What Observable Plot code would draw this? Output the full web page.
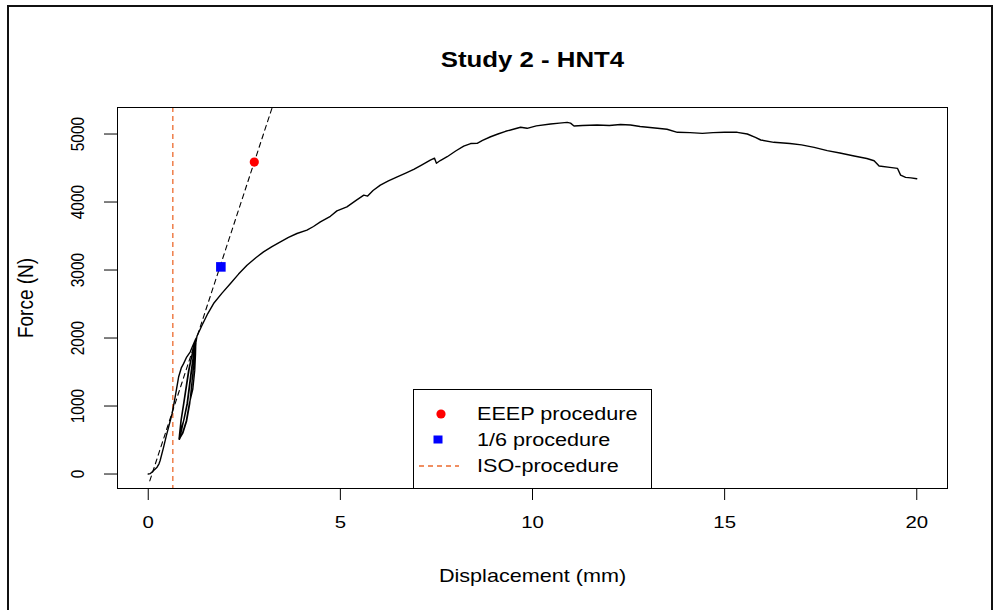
<!DOCTYPE html>
<html><head><meta charset="utf-8">
<script src="https://cdn.jsdelivr.net/npm/d3@7"></script>
<script src="https://cdn.jsdelivr.net/npm/@observablehq/plot@0.6"></script>
<style>
body{margin:0;background:#fff;font-family:"Liberation Sans",Arial,sans-serif;}
#wrap{position:relative;width:995px;height:610px;overflow:hidden;background:#fff;}
#wrap svg{position:absolute;left:0;top:0;}
#border{position:absolute;left:7px;top:5px;width:986px;height:640px;border:2px solid #111;box-sizing:border-box;pointer-events:none;}
#legend{position:absolute;left:413px;top:389px;width:239px;height:100px;border:1px solid #000;background:#fff;box-sizing:border-box;}
.lg-item{position:absolute;left:63px;height:22px;line-height:22px;font-size:18px;color:#000;white-space:nowrap;transform:scaleX(1.2);transform-origin:left center;}
.lg-sw{position:absolute;left:0;}
</style></head><body>
<div id="wrap"><div id="border"></div></div>
<script>
// ---- data ----
const displacement = [
  0.00,0.05,0.14,0.23,0.28,0.31,0.40,0.47,0.53,0.62,0.70,0.79,0.86,0.92,1.00,1.09,1.17,1.24,
  1.23,1.21,1.16,1.07,0.99,0.89,0.81,
  0.81,0.85,0.92,1.05,1.14,1.24,
  1.24,1.18,1.12,1.01,0.92,0.85,0.80,
  0.82,0.86,0.93,1.06,1.15,1.25,
  1.25,1.22,1.17,1.08,1.00,0.90,0.82,
  0.83,0.93,1.02,1.13,1.19,1.27,
  1.40,1.55,1.70,1.92,2.14,2.35,2.57,2.80,3.00,3.22,3.44,3.65,3.87,4.13,4.30,4.48,4.74,4.91,
  5.17,5.40,5.61,5.71,5.85,6.04,6.25,6.48,6.70,6.91,7.10,7.34,7.45,7.50,7.60,7.78,8.00,8.21,
  8.39,8.56,8.70,8.91,9.10,9.30,9.50,9.69,9.86,10.10,10.47,10.70,10.90,10.99,11.08,11.30,11.68,
  12.00,12.29,12.55,12.80,13.25,13.50,13.77,14.10,14.42,14.70,15.00,15.33,15.59,15.80,15.94,
  16.28,16.70,17.00,17.33,17.67,18.00,18.37,18.70,18.89,19.02,19.30,19.50,19.58,19.71,19.85,20.00
];
const force = [
  0,5,52,100,150,199,395,560,689,887,1131,1426,1560,1623,1720,1794,1900,1991,
  1760,1524,1250,1034,780,600,510,
  560,780,1034,1524,1760,1990,
  1990,1760,1524,1034,780,600,515,
  600,800,1050,1524,1780,2000,
  2000,1760,1524,1034,780,600,525,
  620,800,1034,1524,1770,2030,
  2187,2360,2507,2660,2801,2940,3071,3180,3267,3345,3414,3480,3537,3586,3640,3708,3790,3870,
  3929,4020,4102,4087,4170,4249,4310,4371,4425,4479,4540,4617,4645,4570,4610,4666,4750,4823,
  4860,4863,4905,4960,5000,5040,5070,5099,5084,5120,5147,5160,5172,5160,5118,5125,5132,
  5125,5140,5132,5110,5084,5070,5025,5020,5010,5020,5025,5025,5000,4950,4912,
  4878,4860,4840,4804,4755,4720,4676,4640,4607,4529,4510,4494,4396,4362,4355,4342
];
const tangentX = [0.04, 3.23];
const tangentY = [-100, 5398];
const eeepX = [2.76], eeepY = [4588];
const sixthX = [1.89], sixthY = [3046];
const isoX = [0.64];
const xTicks = [0, 5, 10, 15, 20];
const yTicks = [0, 1000, 2000, 3000, 4000, 5000];
const titleText = "Study 2 - HNT4";
const xLabel = "Displacement (mm)";
const yLabel = "Force (N)";
const legendLabels = ["EEEP procedure", "1/6 procedure", "ISO-procedure"];
const legendColors = ["#ff0000", "#0000ff", "#EC6A2E"];
const legendKinds = ["circle", "square", "dash"];

// ---- build tables ----
const curve = displacement.map((d, i) => ({x: d, y: force[i]}));
const tangent = tangentX.map((d, i) => ({x: d, y: tangentY[i]}));
const eeep = eeepX.map((d, i) => ({x: d, y: eeepY[i]}));
const sixth = sixthX.map((d, i) => ({x: d, y: sixthY[i]}));

const FONT = "Liberation Sans, Arial, sans-serif";
const plot = Plot.plot({
  width: 995, height: 610,
  marginLeft: 117, marginRight: 48, marginTop: 107, marginBottom: 122,
  style: {fontFamily: FONT, fontSize: "16px", background: "transparent", color: "#000", overflow: "visible"},
  x: {domain: [-0.8, 20.8]},
  y: {domain: [-213, 5390]},
  marks: [
    Plot.ruleX(isoX, {x: d => d, stroke: "#EC6A2E", strokeWidth: 1.3, strokeDasharray: "5,4"}),
    Plot.line(curve, {x: "x", y: "y", stroke: "#000", strokeWidth: 1.4}),
    Plot.line(tangent, {x: "x", y: "y", stroke: "#000", strokeWidth: 1.1, strokeDasharray: "5,4"}),
    Plot.dot(eeep, {x: "x", y: "y", r: 4.6, fill: "#ff0000", symbol: "circle"}),
    Plot.dot(sixth, {x: "x", y: "y", r: 5.4, fill: "#0000ff", symbol: "square"}),
    Plot.frame({stroke: "#000", strokeWidth: 1}),
    Plot.axisX({ticks: xTicks, tickSize: 12, tickPadding: 15, label: null, fontSize: 17}),
    Plot.axisY({ticks: yTicks, tickSize: 13, tickFormat: () => "", label: null}),
    Plot.text(yTicks, {y: d => d, text: d => String(d), frameAnchor: "left", textAnchor: "middle", lineAnchor: "middle", dx: -39, rotate: -90, fontSize: 15.5}),
    Plot.text([titleText], {text: d => d, frameAnchor: "top", textAnchor: "middle", lineAnchor: "middle", dy: -47, fontWeight: "bold", fontSize: 21.5}),
    Plot.text([xLabel], {text: d => d, frameAnchor: "bottom", textAnchor: "middle", lineAnchor: "middle", dy: 88, fontSize: 18}),
    Plot.text([yLabel], {text: d => d, frameAnchor: "left", textAnchor: "middle", lineAnchor: "middle", dx: -92, rotate: -90, fontSize: 19})
  ]
});

// horizontal stretch of text, as in the reference
const S = 1.2;
d3.select(plot).selectAll("text").each(function() {
  const t = this.getAttribute("transform");
  if (t) {
    if (t.includes("rotate")) this.setAttribute("transform", t.replace("rotate", `scale(${S},1) rotate`));
    else this.setAttribute("transform", t + ` scale(${S},1)`);
  } else {
    const x = +this.getAttribute("x") || 0;
    this.setAttribute("transform", `translate(${x},0) scale(${S},1) translate(${-x},0)`);
  }
});

const wrap = document.getElementById("wrap");
wrap.insertBefore(plot, wrap.firstChild);

// ---- legend (HTML overlay) ----
const legend = document.createElement("div");
legend.id = "legend";
const centers = [24, 50, 76];
legendLabels.forEach((lab, i) => {
  const sw = document.createElementNS("http://www.w3.org/2000/svg", "svg");
  sw.setAttribute("width", 60); sw.setAttribute("height", 20);
  sw.setAttribute("class", "lg-sw");
  sw.style.top = (centers[i] - 10) + "px";
  let el;
  if (legendKinds[i] === "circle") {
    el = document.createElementNS(sw.namespaceURI, "circle");
    el.setAttribute("cx", 27); el.setAttribute("cy", 10); el.setAttribute("r", 4.6);
    el.setAttribute("fill", legendColors[i]);
  } else if (legendKinds[i] === "square") {
    el = document.createElementNS(sw.namespaceURI, "rect");
    el.setAttribute("x", 19.5); el.setAttribute("y", 5.5); el.setAttribute("width", 9); el.setAttribute("height", 8);
    el.setAttribute("fill", legendColors[i]);
  } else {
    el = document.createElementNS(sw.namespaceURI, "line");
    el.setAttribute("x1", 5); el.setAttribute("x2", 45); el.setAttribute("y1", 10); el.setAttribute("y2", 10);
    el.setAttribute("stroke", legendColors[i]); el.setAttribute("stroke-width", 1.3);
    el.setAttribute("stroke-dasharray", "5,4");
  }
  sw.appendChild(el);
  legend.appendChild(sw);
  const tx = document.createElement("div");
  tx.className = "lg-item";
  tx.style.top = (centers[i] - 11) + "px";
  tx.textContent = lab;
  legend.appendChild(tx);
});
wrap.appendChild(legend);
</script>
</body></html>
